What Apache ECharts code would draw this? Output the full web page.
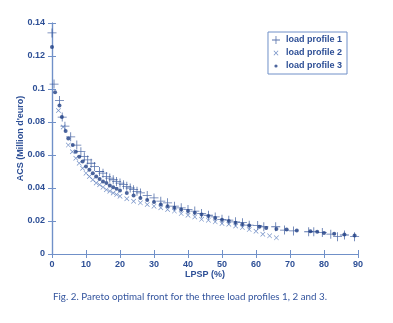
<!DOCTYPE html>
<html>
<head>
<meta charset="utf-8">
<script src="https://cdn.jsdelivr.net/npm/echarts@6/dist/echarts.min.js"></script>
<style>
  html, body { margin: 0; padding: 0; background: #fff; }
  #chart { width: 393px; height: 323px; }
</style>
</head>
<body>
<div id="chart"></div>
<script>
// Pareto fronts: LPSP (%) vs ACS (Million d'euro) for three load profiles
const profile1LPSP = [0, 0.6, 2.2, 3, 3.8, 5.5, 7.3, 8.5, 9.5, 10.5, 11.5, 12.5, 14, 15, 16, 17, 18, 19, 20, 21, 22, 23, 24, 25, 26, 28, 30, 32, 34, 36, 38, 40, 42, 44, 46, 48, 50, 52, 54, 56, 58, 60.5, 62.3, 65.8, 68.4, 71, 75.5, 77, 79.5, 82, 84, 86, 89];
const profile1ACS  = [0.134, 0.103, 0.093, 0.083, 0.0775, 0.071, 0.066, 0.062, 0.059, 0.057, 0.055, 0.053, 0.050, 0.049, 0.047, 0.046, 0.045, 0.044, 0.043, 0.042, 0.041, 0.040, 0.039, 0.038, 0.037, 0.0355, 0.034, 0.032, 0.031, 0.029, 0.028, 0.027, 0.026, 0.0245, 0.0235, 0.0225, 0.021, 0.0205, 0.0195, 0.019, 0.0175, 0.0172, 0.0165, 0.0165, 0.0145, 0.014, 0.0135, 0.0135, 0.013, 0.012, 0.0105, 0.0115, 0.0105];

const profile2LPSP = [1.9, 3.3, 4.8, 6, 7, 8, 9, 10, 11, 12, 13, 14, 15, 16, 17, 18, 19, 20, 22, 24, 26, 28, 30, 32, 34, 36, 38, 40, 42, 44, 46, 48, 50, 52, 54, 56, 58, 60, 62, 64, 66];
const profile2ACS  = [0.087, 0.077, 0.066, 0.062, 0.058, 0.055, 0.052, 0.049, 0.047, 0.045, 0.043, 0.042, 0.0405, 0.039, 0.038, 0.037, 0.036, 0.035, 0.0335, 0.032, 0.031, 0.030, 0.029, 0.028, 0.027, 0.026, 0.0245, 0.0235, 0.0225, 0.021, 0.0205, 0.0195, 0.0185, 0.018, 0.017, 0.016, 0.0148, 0.0138, 0.012, 0.011, 0.0098];

const profile3LPSP = [0, 0.9, 2.2, 2.9, 4, 4.8, 6.1, 7, 8, 9, 10, 11, 12, 13, 14, 15, 16, 17, 18, 19, 20, 22, 24, 26, 28, 30, 32, 34, 36, 38, 40, 42, 44, 46, 48, 50, 52, 54, 56, 58, 61, 63, 66, 69, 72, 76, 78, 80, 83, 86, 89];
const profile3ACS  = [0.1255, 0.098, 0.090, 0.083, 0.0745, 0.070, 0.066, 0.062, 0.059, 0.056, 0.053, 0.051, 0.049, 0.047, 0.0455, 0.044, 0.043, 0.0415, 0.0405, 0.0395, 0.0385, 0.037, 0.0355, 0.034, 0.0328, 0.0315, 0.030, 0.029, 0.028, 0.027, 0.026, 0.025, 0.024, 0.023, 0.0218, 0.0208, 0.020, 0.019, 0.018, 0.0172, 0.0165, 0.0158, 0.0152, 0.0148, 0.0142, 0.0138, 0.0135, 0.0128, 0.0122, 0.0118, 0.0112];

const xTicks = [0, 10, 20, 30, 40, 50, 60, 70, 80, 90];
const yTicks = [0, 0.02, 0.04, 0.06, 0.08, 0.1, 0.12, 0.14];
const seriesNames = ['load profile 1', 'load profile 2', 'load profile 3'];

const ink = '#2d4f96';
const axisBlue = '#7090c8';

function pairs(xs, ys) { return xs.map((x, i) => [x, ys[i]]); }

const plusPath = 'path://M-0.45,-5h0.9v10h-0.9z M-5,-0.45h10v0.9h-10z';
const crossPath = 'path://M-4,-3.3L-3.3,-4L4,3.3L3.3,4z M3.3,-4L4,-3.3L-3.3,4L-4,3.3z';
// legend glyphs padded with near-zero corner specks so they keep a small size inside the icon box
const legendPlus = 'path://M-5,-5h0.01v0.01h-0.01z M5,5h0.01v0.01h-0.01z M-0.4,-4h0.8v8h-0.8z M-4,-0.4h8v0.8h-8z';
const legendCross = 'path://M-5,-5h0.01v0.01h-0.01z M5,5h0.01v0.01h-0.01z M-2.4,-1.9L-1.9,-2.4L2.4,1.9L1.9,2.4z M1.9,-2.4L2.4,-1.9L-1.9,2.4L-2.4,1.9z';
const legendDot = 'path://M-5,-5h0.01v0.01h-0.01z M5,5h0.01v0.01h-0.01z M-1.6,0a1.6,1.6 0 1,0 3.2,0a1.6,1.6 0 1,0 -3.2,0z';

const chart = echarts.init(document.getElementById('chart'));

const tickLabelStyle = { color: ink, fontSize: 9, fontWeight: 'bold', fontFamily: 'Liberation Sans, Arial, sans-serif' };

chart.setOption({
  animation: false,
  backgroundColor: '#fff',
  grid: { left: 52, right: 35, top: 23, bottom: 69 },
  xAxis: [
    {
      type: 'value', min: 0, max: 90, interval: 10, position: 'bottom',
      name: 'LPSP (%)', nameLocation: 'middle', nameGap: 16, nameMoveOverlap: false,
      nameTextStyle: tickLabelStyle,
      axisLine: { lineStyle: { color: axisBlue, width: 1.2 } },
      axisTick: { inside: true, length: 4, lineStyle: { color: axisBlue } },
      axisLabel: Object.assign({ margin: 6, formatter: v => xTicks.includes(v) ? String(v) : '' }, tickLabelStyle),
      splitLine: { show: false }
    },
    {
      type: 'value', min: 0, max: 90, interval: 10, position: 'top',
      axisLine: { lineStyle: { color: axisBlue, width: 1.2 } },
      axisTick: { inside: true, length: 4, lineStyle: { color: axisBlue } },
      axisLabel: { show: false }, splitLine: { show: false }
    }
  ],
  yAxis: [
    {
      type: 'value', min: 0, max: 0.14, interval: 0.02, position: 'left',
      name: "ACS (Million d'euro)", nameLocation: 'middle', nameGap: 27, nameRotate: 90, nameMoveOverlap: false,
      nameTextStyle: tickLabelStyle,
      axisLine: { show: true, lineStyle: { color: axisBlue, width: 1.2 } },
      axisTick: { show: true, inside: true, length: 4, lineStyle: { color: axisBlue } },
      axisLabel: Object.assign({ margin: 7, formatter: v => {
        const t = yTicks.find(k => Math.abs(k - v) < 1e-9);
        return t === undefined ? '' : String(parseFloat(t.toFixed(2)));
      } }, tickLabelStyle),
      splitLine: { show: false }
    },
    {
      type: 'value', min: 0, max: 0.14, interval: 0.02, position: 'right',
      axisLine: { show: true, lineStyle: { color: axisBlue, width: 1.2 } },
      axisTick: { show: true, inside: true, length: 4, lineStyle: { color: axisBlue } },
      axisLabel: { show: false }, splitLine: { show: false }
    }
  ],
  legend: {
    right: 46, top: 32, orient: 'vertical',
    itemWidth: 10, itemHeight: 10, itemGap: 3,
    padding: [3, 5, 3, 3],
    borderColor: axisBlue, borderWidth: 1, backgroundColor: '#fff',
    textStyle: { color: ink, fontSize: 9, fontWeight: 'bold', fontFamily: 'Liberation Sans, Arial, sans-serif' },
    data: [
      { name: seriesNames[0], icon: legendPlus },
      { name: seriesNames[1], icon: legendCross },
      { name: seriesNames[2], icon: legendDot }
    ]
  },
  series: [
    {
      name: seriesNames[0], type: 'scatter', data: pairs(profile1LPSP, profile1ACS),
      symbol: plusPath, symbolSize: 9, itemStyle: { color: ink }
    },
    {
      name: seriesNames[1], type: 'scatter', data: pairs(profile2LPSP, profile2ACS),
      symbol: crossPath, symbolSize: 5, itemStyle: { color: '#4a6fb5' }
    },
    {
      name: seriesNames[2], type: 'scatter', data: pairs(profile3LPSP, profile3ACS),
      symbol: 'circle', symbolSize: 4, itemStyle: { color: '#1f3f85' }
    }
  ],
  graphic: [{
    type: 'text', left: 53, top: 292,
    style: {
      text: 'Fig. 2. Pareto optimal front for the three load profiles 1, 2 and 3.',
      fill: '#34559e', fontSize: 9.8, fontFamily: 'Lato, sans-serif'
    }
  }]
});
</script>
</body>
</html>
